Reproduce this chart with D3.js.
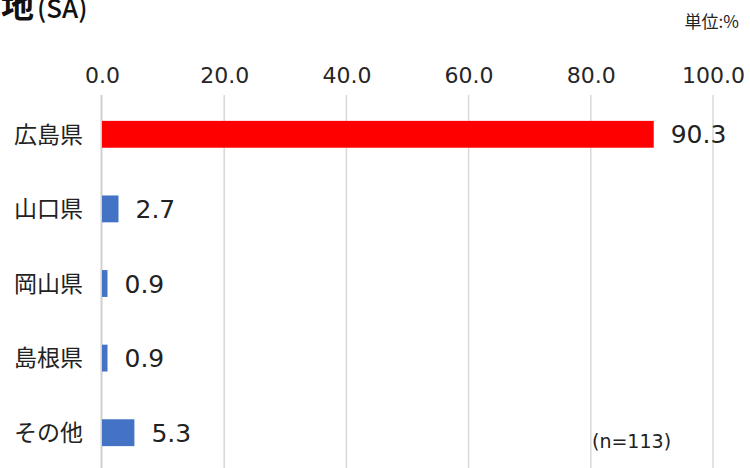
<!DOCTYPE html>
<html>
<head>
<meta charset="utf-8">
<script src="https://cdn.jsdelivr.net/npm/d3@7"></script>
<style>
  html, body { margin: 0; padding: 0; background: #fff; }
  svg { display: block; font-family: "Noto Sans CJK JP", "Noto Sans", sans-serif; }
  .num { font-family: "DejaVu Sans", "Noto Sans", sans-serif; }
</style>
</head>
<body>
<svg id="chart" width="750" height="468"></svg>
<script>
// Prefectures of residence, share of respondents (%)
const categories = ["広島県", "山口県", "岡山県", "島根県", "その他"];
const values = [90.3, 2.7, 0.9, 0.9, 5.3];
const barColors = ["#ff0000", "#4472c4", "#4472c4", "#4472c4", "#4472c4"];
const tickValues = [0, 20, 40, 60, 80, 100];

const svg = d3.select("#chart");
const W = 750, H = 468;

const x = d3.scaleLinear().domain([0, 100]).range([102, 713]);
const y = d3.scaleBand().domain(categories).range([97, 470]).paddingInner(0.64).paddingOuter(0.32);

// Vertical gridlines
svg.append("g")
  .selectAll("line")
  .data(tickValues.slice(1))
  .join("line")
  .attr("x1", d => x(d)).attr("x2", d => x(d))
  .attr("y1", 95).attr("y2", H)
  .attr("stroke", "#d9d9d9").attr("stroke-width", 1.5);

// Top axis labels
const axis = svg.append("g")
  .attr("transform", "translate(0,83)")
  .call(d3.axisTop(x).tickValues(tickValues).tickFormat(d3.format(".1f")).tickSize(0).tickPadding(0));
axis.select(".domain").remove();
axis.selectAll("text")
  .attr("class", "num")
  .attr("font-size", 22).attr("fill", "#262626")
  .attr("font-family", null);

// Category axis line
svg.append("line")
  .attr("x1", x(0) - 0.5).attr("x2", x(0) - 0.5)
  .attr("y1", 95).attr("y2", H)
  .attr("stroke", "#d0d0d0").attr("stroke-width", 2);

// Bars
svg.append("g")
  .selectAll("rect")
  .data(values)
  .join("rect")
  .attr("x", x(0))
  .attr("y", (d, i) => y(categories[i]))
  .attr("width", d => x(d) - x(0))
  .attr("height", y.bandwidth())
  .attr("fill", (d, i) => barColors[i]);

// Category labels
svg.append("g")
  .selectAll("text")
  .data(categories)
  .join("text")
  .attr("x", 83)
  .attr("y", d => y(d) + y.bandwidth() / 2)
  .attr("dy", "0.36em")
  .attr("text-anchor", "end")
  .attr("font-size", 23)
  .attr("fill", "#222")
  .text(d => d);

// Value labels
svg.append("g")
  .selectAll("text")
  .data(values)
  .join("text")
  .attr("class", "num")
  .attr("x", d => x(d) + 17)
  .attr("y", (d, i) => y(categories[i]) + y.bandwidth() / 2)
  .attr("dy", "0.36em")
  .attr("font-size", 25)
  .attr("fill", "#222")
  .text(d => d3.format(".1f")(d));

// Title fragment
const title = svg.append("text").attr("x", 1).attr("y", 18).attr("fill", "#111");
title.append("tspan").attr("font-size", 33).attr("font-weight", "bold").text("地");
title.append("tspan").attr("x", 37).attr("font-size", 26).attr("font-weight", 500).text("(SA)");

// Unit
svg.append("text")
  .attr("x", 739).attr("y", 28)
  .attr("text-anchor", "end")
  .attr("font-size", 17).attr("fill", "#222")
  .text("単位:%");

// Sample size
svg.append("text")
  .attr("class", "num")
  .attr("x", 592).attr("y", 448)
  .attr("font-size", 19).attr("fill", "#222")
  .text("(n=113)");
</script>
</body>
</html>
